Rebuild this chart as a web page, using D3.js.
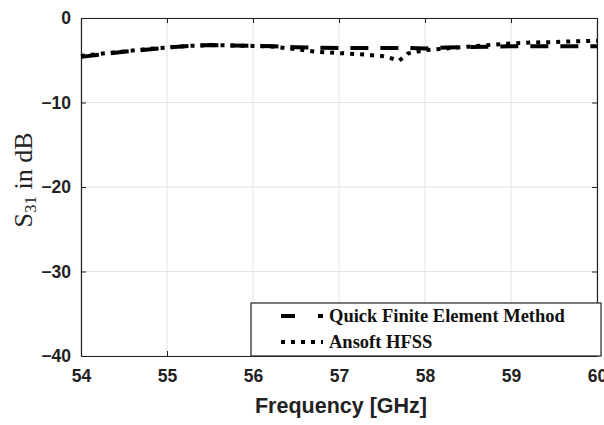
<!DOCTYPE html>
<html><head><meta charset="utf-8">
<script src="https://cdn.jsdelivr.net/npm/d3@7/dist/d3.min.js"></script>
<style>body{margin:0;background:#fff}</style>
</head><body><svg id="c" width="604" height="425"></svg>
<script>
const freq = [54, 54.25, 54.5, 54.75, 55, 55.25, 55.5, 55.75, 56, 56.25, 56.5, 56.75, 57, 57.25, 57.5, 57.6, 57.7, 57.8, 58, 58.25, 58.5, 58.75, 59, 59.25, 59.5, 59.75, 60];
const qfem = [-4.6, -4.3, -4.0, -3.75, -3.5, -3.3, -3.2, -3.25, -3.3, -3.35, -3.45, -3.5, -3.55, -3.55, -3.55, -3.55, -3.55, -3.55, -3.6, -3.5, -3.45, -3.4, -3.35, -3.35, -3.35, -3.35, -3.35];
const hfss = [-4.5, -4.2, -3.95, -3.7, -3.5, -3.3, -3.2, -3.25, -3.3, -3.4, -3.7, -4.0, -4.15, -4.3, -4.5, -4.75, -5.05, -4.2, -3.8, -3.6, -3.4, -3.2, -3.0, -2.9, -2.85, -2.75, -2.7];
const xTicks = [54, 55, 56, 57, 58, 59, 60];
const yTicks = [0, -10, -20, -30, -40];
const seriesNames = ["Quick Finite Element Method", "Ansoft HFSS"];

const svg = d3.select("#c");
const L = 81, R = 597, T = 18, B = 356;
const x = d3.scaleLinear().domain([54, 60]).range([L, R]);
const y = d3.scaleLinear().domain([-40, 0]).range([B, T]);

// grid
const g = svg.append("g");
g.selectAll(".gx").data(xTicks).enter().append("line")
  .attr("x1", d => x(d)).attr("x2", d => x(d)).attr("y1", T).attr("y2", B)
  .attr("stroke", "#e3e3e3").attr("stroke-width", 1);
g.selectAll(".gy").data(yTicks).enter().append("line")
  .attr("y1", d => y(d)).attr("y2", d => y(d)).attr("x1", L).attr("x2", R)
  .attr("stroke", "#e3e3e3").attr("stroke-width", 1);

// axes
const fmt = d3.format("d");
const ax = svg.append("g").attr("transform", `translate(0,${B})`)
  .call(d3.axisBottom(x).tickValues(xTicks).tickFormat(fmt).tickSizeInner(-5).tickSizeOuter(0).tickPadding(14));
const axTop = svg.append("g").attr("transform", `translate(0,${T})`)
  .call(d3.axisTop(x).tickValues(xTicks).tickSizeInner(-5).tickSizeOuter(0).tickFormat(""));
const ay = svg.append("g").attr("transform", `translate(${L},0)`)
  .call(d3.axisLeft(y).tickValues(yTicks).tickFormat(fmt).tickSizeInner(-5).tickSizeOuter(0).tickPadding(10));
const ayR = svg.append("g").attr("transform", `translate(${R},0)`)
  .call(d3.axisRight(y).tickValues(yTicks).tickSizeInner(-5).tickSizeOuter(0).tickFormat(""));
[ax, axTop, ay, ayR].forEach(a => {
  a.selectAll("path").attr("stroke", "#222").attr("stroke-width", 1.2);
  a.selectAll("line").attr("stroke", "#222");
  a.selectAll("text").attr("font-family", "Liberation Sans, Arial, sans-serif")
    .attr("font-weight", "bold").attr("font-size", 17.5).attr("fill", "#222");
});

// lines
const line = d3.line().x((d, i) => x(freq[i])).y(d => y(d));
svg.append("path").datum(qfem).attr("d", line).attr("fill", "none")
  .attr("stroke", "#000").attr("stroke-width", 4).attr("stroke-dasharray", "18,12");
svg.append("path").datum(hfss).attr("d", line).attr("fill", "none")
  .attr("stroke", "#000").attr("stroke-width", 4).attr("stroke-dasharray", "4,6");

// legend
const lg = svg.append("g");
lg.append("rect").attr("x", 251).attr("y", 303).attr("width", 350).attr("height", 53)
  .attr("fill", "#fff").attr("stroke", "#222").attr("stroke-width", 1.2);
const ly = [316, 342];
const dashes = ["14,23", "4,6"];
seriesNames.forEach((n, i) => {
  lg.append("line").attr("x1", 281).attr("x2", 323).attr("y1", ly[i]).attr("y2", ly[i])
    .attr("stroke", "#000").attr("stroke-width", 4).attr("stroke-dasharray", dashes[i]);
  lg.append("text").attr("x", 329).attr("y", ly[i]).attr("dy", "0.35em")
    .attr("font-family", "Liberation Serif, Times New Roman, serif").attr("font-weight", "bold")
    .attr("font-size", 18.5).attr("fill", "#111").text(n);
});

// axis labels
svg.append("text").attr("x", 341).attr("y", 405).attr("dy", "0.35em")
  .attr("text-anchor", "middle").attr("font-family", "Liberation Sans, Arial, sans-serif")
  .attr("font-weight", "bold").attr("font-size", 21.5).attr("fill", "#222").text("Frequency [GHz]");
const yl = svg.append("text").attr("transform", "translate(32,180) rotate(-90)")
  .attr("text-anchor", "middle").attr("font-family", "Liberation Serif, Times New Roman, serif")
  .attr("font-size", 26).attr("fill", "#222");
yl.append("tspan").text("S");
yl.append("tspan").attr("font-size", 17).attr("dy", 4).text("31");
yl.append("tspan").attr("dy", -4).text(" in dB");
</script></body></html>
